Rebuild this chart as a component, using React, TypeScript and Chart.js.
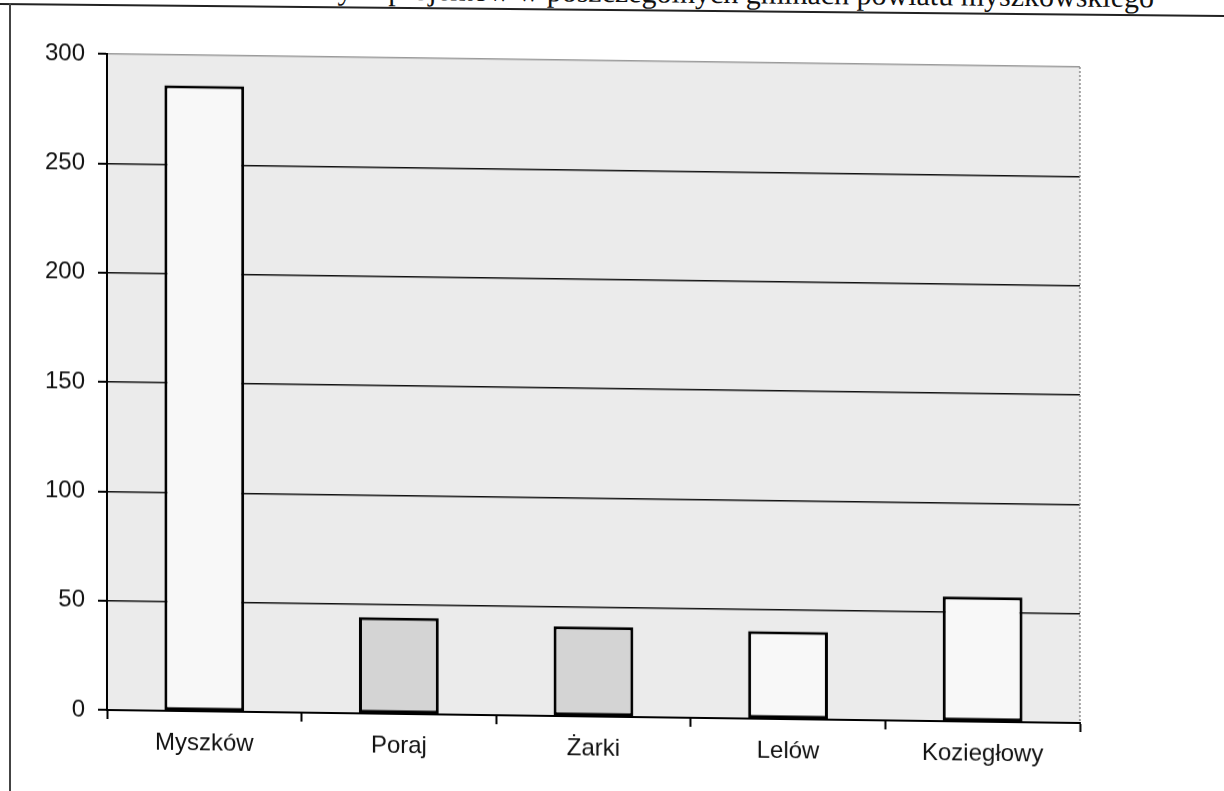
import React, { useEffect, useRef } from "react";
import { Chart, registerables } from "chart.js";

Chart.register(...registerables);

const categories = ["Myszków", "Poraj", "Żarki", "Lelów", "Koziegłowy"];
const values = [286, 44, 41, 40, 57];
const barFills = ["#f8f8f8", "#d4d4d4", "#d4d4d4", "#f8f8f8", "#f8f8f8"];
const yMin = 0;
const yMax = 300;
const yStep = 50;
const titleText =
  "Liczba realizowanych projektów w poszczególnych gminach powiatu myszkowskiego";

const plotBg = {
  id: "plotBg",
  beforeDraw(chart: any) {
    const { ctx, chartArea } = chart;
    if (!chartArea) return;
    ctx.save();
    ctx.fillStyle = "#ebebeb";
    ctx.fillRect(
      chartArea.left,
      chartArea.top,
      chartArea.right - chartArea.left,
      chartArea.bottom - chartArea.top
    );
    ctx.restore();
  },
  afterDraw(chart: any) {
    const { ctx, chartArea } = chart;
    if (!chartArea) return;
    ctx.save();
    ctx.strokeStyle = "#8a8a8a";
    ctx.lineWidth = 1.5;
    ctx.setLineDash([2, 2]);
    ctx.beginPath();
    ctx.moveTo(chartArea.right, chartArea.top);
    ctx.lineTo(chartArea.right, chartArea.bottom);
    ctx.stroke();
    ctx.restore();
  },
};

export default function App() {
  const ref = useRef<HTMLCanvasElement | null>(null);

  useEffect(() => {
    if (!ref.current) return;
    const chart = new Chart(ref.current, {
      type: "bar",
      data: {
        labels: categories,
        datasets: [
          {
            data: values,
            backgroundColor: barFills,
            borderColor: "#000",
            borderWidth: 3,
            borderSkipped: false,
            categoryPercentage: 1,
            barPercentage: 0.41,
          },
        ],
      },
      options: {
        responsive: false,
        animation: false,
        layout: { padding: { top: 54, right: 144, left: 0, bottom: 0 } },
        plugins: {
          legend: { display: false },
          tooltip: { enabled: false },
          title: { display: false },
        },
        scales: {
          x: {
            grid: {
              display: true,
              drawOnChartArea: false,
              drawTicks: true,
              tickLength: 9,
              tickColor: "#000",
              tickWidth: 2,
              offset: true,
            },
            border: { display: true, color: "#000", width: 2 },
            ticks: {
              color: "#111",
              padding: 9,
              maxRotation: 0,
              font: { family: "'Liberation Sans', Arial, sans-serif", size: 24 },
            },
            afterFit(scale: any) {
              scale.height = 81;
            },
          },
          y: {
            min: yMin,
            max: yMax,
            ticks: {
              stepSize: yStep,
              color: "#111",
              padding: 13,
              font: { family: "'Liberation Sans', Arial, sans-serif", size: 24 },
            },
            grid: {
              color: (c: any) => (c.tick && c.tick.value === yMax ? "#9a9a9a" : "#111"),
              lineWidth: (c: any) => (c.tick && c.tick.value === yMax ? 1.5 : 1.6),
              tickLength: 9,
              tickColor: "#000",
              tickWidth: 2,
            },
            border: { display: true, color: "#000", width: 2 },
            afterFit(scale: any) {
              scale.width = 107;
            },
          },
        },
      },
      plugins: [plotBg],
    });
    return () => chart.destroy();
  }, []);

  return (
    <div
      style={{
        position: "fixed",
        left: 0,
        top: 0,
        width: 1224,
        height: 791,
        overflow: "hidden",
        background: "#fff",
      }}
    >
      <div
        style={{
          position: "absolute",
          left: 0,
          top: 0,
          width: 1224,
          height: 791,
          transform: "skewY(0.56deg)",
          transformOrigin: "0 0",
        }}
      >
        <div
          style={{
            position: "absolute",
            right: 70,
            top: -29,
            fontFamily: "'Liberation Serif', 'Times New Roman', serif",
            fontSize: 30,
            lineHeight: "30px",
            color: "#111",
            whiteSpace: "nowrap",
          }}
        >
          {titleText}
        </div>
        <div
          style={{
            position: "absolute",
            left: 0,
            top: 3,
            width: 1224,
            height: 2,
            background: "#222",
          }}
        />
        <div
          style={{
            position: "absolute",
            left: 9,
            top: 3,
            width: 2,
            height: 800,
            background: "#444",
          }}
        />
      </div>
      <canvas
        ref={ref}
        width={1224}
        height={791}
        style={{
          position: "absolute",
          left: 0,
          top: 0,
          width: 1224,
          height: 791,
          display: "block",
          transform: "skewY(0.766deg)",
          transformOrigin: "107px 0",
        }}
      />
    </div>
  );
}
